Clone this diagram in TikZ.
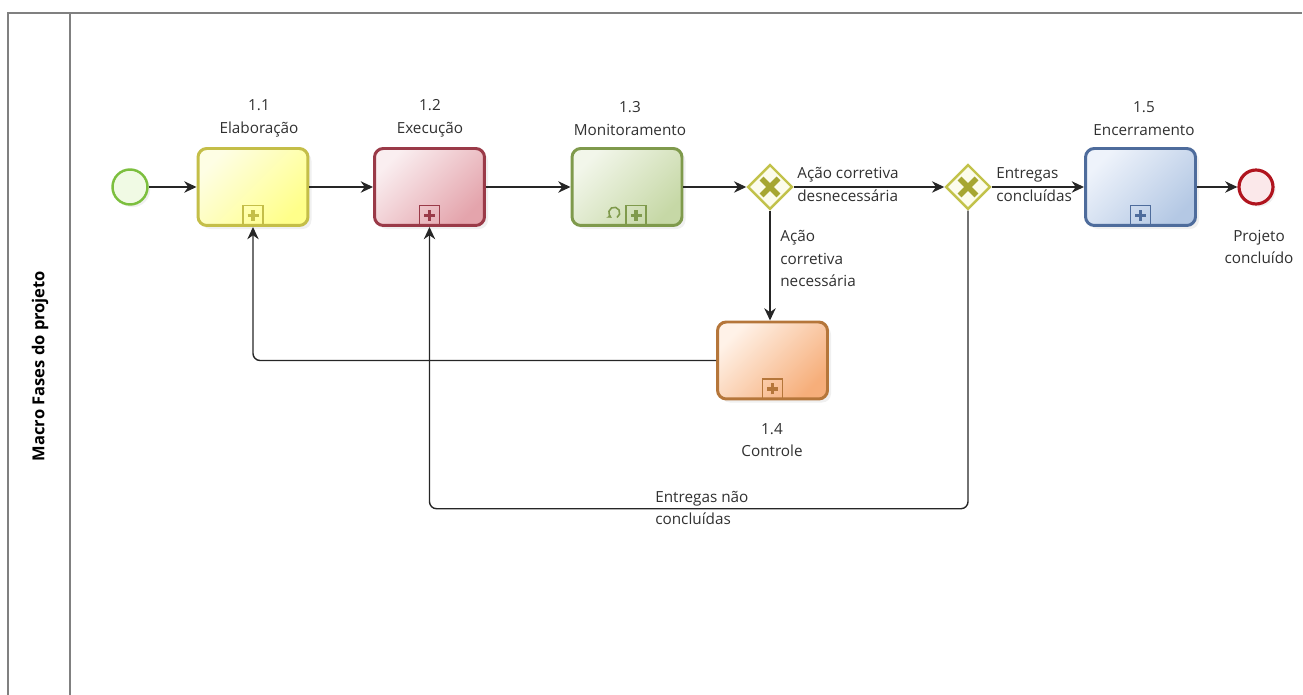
\documentclass[tikz,border=0pt]{standalone}
\usepackage{fontspec}
\setmainfont{Open Sans}
\usepackage{tikz}
\usepackage{xcolor}
\usetikzlibrary{arrows.meta,shapes.geometric,shadows}

\definecolor{ylwline}{HTML}{C4BE48}
\definecolor{ylwlight}{HTML}{FEFEE4}
\definecolor{ylwdark}{HTML}{FFFF8A}
\definecolor{redline}{HTML}{9A3A48}
\definecolor{redlight}{HTML}{FAEEF0}
\definecolor{reddark}{HTML}{E4A4AC}
\definecolor{grnline}{HTML}{7F9A4C}
\definecolor{grnlight}{HTML}{F2F6EA}
\definecolor{grndark}{HTML}{C6D8A6}
\definecolor{orgline}{HTML}{B5763A}
\definecolor{orglight}{HTML}{FFF2E8}
\definecolor{orgdark}{HTML}{F6AE7A}
\definecolor{bluline}{HTML}{4E6C9C}
\definecolor{blulight}{HTML}{EEF3FB}
\definecolor{bludark}{HTML}{B4C8E4}
\definecolor{gwline}{HTML}{C2C24A}
\definecolor{gwfill}{HTML}{FCFCEC}
\definecolor{gwmark}{HTML}{A6A632}
\definecolor{strline}{HTML}{7CBF3E}
\definecolor{strfill}{HTML}{F0FAE4}
\definecolor{endline}{HTML}{B0141E}
\definecolor{endfill}{HTML}{FBE8EA}
\definecolor{txt}{HTML}{303030}

\tikzset{
  pool/.style={draw=black!50, line width=1.2pt},
  flow/.style={draw=black!85, line width=0.8pt, -{Stealth[length=7pt,width=6.5pt]}},
  back/.style={flow, rounded corners=4pt},
  lbl/.style={align=center, text=txt, font=\fontsize{8.7}{12.8}\selectfont, inner sep=0pt},
  lbll/.style={lbl, align=left, anchor=west},
  task/.style={draw=#1line, line width=1.7pt, rounded corners=5pt,
    top color=#1light, bottom color=#1dark, shading angle=45,
    minimum width=2.2cm, minimum height=1.54cm,
    drop shadow={shadow xshift=2pt, shadow yshift=-2pt, opacity=0.12}},
  sub/.style={path picture={
    \draw[#1, sharp corners, line width=0.9pt] ([xshift=-0.2cm]path picture bounding box.south) rectangle ++(0.4cm,0.4cm);
    \draw[#1, sharp corners, line width=2.2pt] ([yshift=0.2cm]path picture bounding box.south) +(-0.11cm,0) -- +(0.11cm,0) +(0,-0.11cm) -- +(0,0.11cm);}},
  subloop/.style={path picture={
    \draw[#1, sharp corners, line width=0.9pt] ([xshift=-0.02cm]path picture bounding box.south) rectangle ++(0.4cm,0.4cm);
    \draw[#1, sharp corners, line width=2.2pt] ([xshift=0.18cm,yshift=0.2cm]path picture bounding box.south) +(-0.11cm,0) -- +(0.11cm,0) +(0,-0.11cm) -- +(0,0.11cm);
    \draw[#1, sharp corners, line width=0.9pt, -{Stealth[length=2.5pt,width=3pt]}] ([xshift=-0.2cm,yshift=0.16cm]path picture bounding box.south) arc[start angle=-60, end angle=240, radius=0.11cm];}},
  startev/.style={circle, draw=strline, fill=strfill, line width=1.4pt, minimum size=0.7cm, inner sep=0pt,
    drop shadow={shadow xshift=1.5pt, shadow yshift=-1.5pt, opacity=0.12}},
  endev/.style={circle, draw=endline, fill=endfill, line width=1.8pt, minimum size=0.68cm, inner sep=0pt,
    drop shadow={shadow xshift=1.5pt, shadow yshift=-1.5pt, opacity=0.12}},
  gateway/.style={diamond, aspect=1, draw=gwline, fill=gwfill, line width=1.4pt, minimum size=0.9cm, inner sep=0pt,
    path picture={\draw[gwmark, line width=3.2pt] (path picture bounding box.center) +(-0.17cm,-0.17cm) -- +(0.17cm,0.17cm) +(-0.17cm,0.17cm) -- +(0.17cm,-0.17cm);}}
}

\begin{document}
\begin{tikzpicture}[x=0.02cm,y=-0.02cm]
    \useasboundingbox (0,0) rectangle (1303,695);
    % pool and lane
    \draw[pool] (8,695) |- (1302,13);
    \draw[pool] (70,13) -- (70,695);
    \node[rotate=90, text=black, font=\fontsize{9.4}{11}\bfseries] (pname) at (40,366) {Macro Fases do projeto};

    % events, tasks, gateways
    \node[startev] (S) at (130,187) {};
    \node[task=ylw, sub=ylwline] (T11) at (253,187) {};
    \node[task=red, sub=redline] (T12) at (429.5,187) {};
    \node[task=grn, subloop=grnline] (T13) at (627,187) {};
    \node[gateway] (G1) at (770,187) {};
    \node[gateway] (G2) at (968,187) {};
    \node[task=blu, sub=bluline] (T15) at (1140.5,187) {};
    \node[endev] (E) at (1256,187) {};
    \node[task=org, sub=orgline] (T14) at (772.5,360.5) {};

    % labels
    \node[lbl] (L11) at (259,118.5) {1.1\\Elaboração};
    \node[lbl] (L12) at (430,118.5) {1.2\\Execução};
    \node[lbl] (L13) at (630,118.5) {1.3\\Monitoramento};
    \node[lbl] (L15) at (1144,118.5) {1.5\\Encerramento};
    \node[lbl] (L14) at (772,440) {1.4\\Controle};
    \node[lbl] (LE) at (1259,247) {Projeto\\concluído};
    \node[lbll] (LG1a) at (797,184.5) {Ação corretiva\\desnecessária};
    \node[lbll] (LG1b) at (780,258.5) {Ação\\corretiva\\necessária};
    \node[lbll] (LG2a) at (996,184.5) {Entregas\\concluídas};
    \node[lbll] (LG2b) at (655,508) {Entregas não\\concluídas};

    % sequence flows
    \draw[flow] (S) -- (T11);
    \draw[flow] (T11) -- (T12);
    \draw[flow] (T12) -- (T13);
    \draw[flow] (T13) -- (G1);
    \draw[flow] (G1) -- (G2);
    \draw[flow] (G2) -- (T15);
    \draw[flow] (T15) -- (E);
    \draw[flow] (G1.south) -- (G1.south |- T14.north);
    \draw[back] (T14.west) -| (T11.south);
    \draw[back] (G2.south) -- ++(0,298) -| (T12.south);
\end{tikzpicture}
\end{document}
